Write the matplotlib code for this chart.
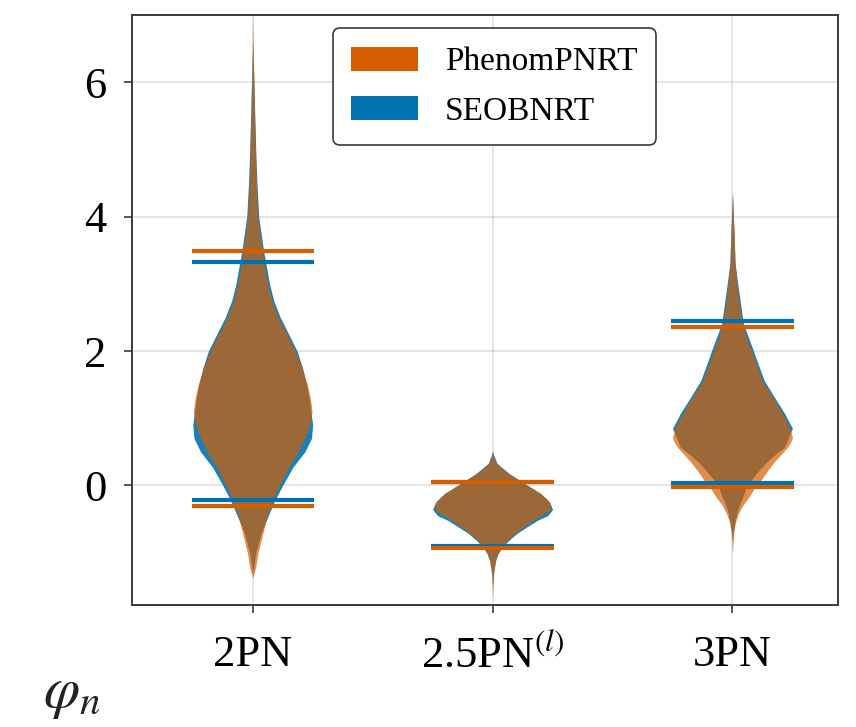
import numpy as np
import matplotlib
matplotlib.use("Agg")
import matplotlib.pyplot as plt
from matplotlib.patches import Patch

plt.rcParams['font.family'] = ['Liberation Serif', 'DejaVu Serif']
plt.rcParams['mathtext.fontset'] = 'stix'

# PN orders on the x axis
orders = ['2PN', r'2.5PN$^{(l)}$', '3PN']
models = ['PhenomPNRT', 'SEOBNRT']
colors = {'PhenomPNRT': '#D55E00', 'SEOBNRT': '#0072B2'}

# violin outlines: value -> relative density (1 = widest point)
pheno_y = [
    [7.0, 6.5, 6.0, 5.5, 5.0, 4.5, 4.0, 3.75, 3.5, 3.25, 3.0, 2.75, 2.5, 2.25, 2.0, 1.75, 1.5, 1.3, 1.1,
     0.9, 0.77, 0.5, 0.27, 0.0, -0.22, -0.45, -0.71, -1.0, -1.22, -1.38],
    [0.52, 0.42, 0.33, 0.25, 0.18, 0.1, 0.03, -0.05, -0.12, -0.2, -0.27, -0.33, -0.38, -0.45, -0.52, -0.62,
     -0.72, -0.82, -0.92, -1.02, -1.12, -1.31, -1.5, -1.7],
    [4.36, 4.0, 3.79, 3.3, 3.05, 2.8, 2.6, 2.41, 2.2, 2.05, 1.8, 1.56, 1.31, 1.2, 1.07, 0.95, 0.85, 0.71,
     0.64, 0.57, 0.45, 0.33, 0.2, 0.07, -0.05, -0.18, -0.3, -0.42, -0.55, -0.67, -0.85, -1.04],
]
pheno_w = [
    [0.0, 0.01, 0.02, 0.03, 0.045, 0.06, 0.085, 0.12, 0.16, 0.2, 0.25, 0.32, 0.43, 0.57, 0.71, 0.82, 0.91,
     0.96, 0.99, 0.95, 0.9, 0.76, 0.6, 0.45, 0.33, 0.24, 0.17, 0.09, 0.05, 0.0],
    [0.0, 0.02, 0.07, 0.15, 0.27, 0.4, 0.53, 0.67, 0.8, 0.9, 0.96, 0.98, 0.94, 0.82, 0.68, 0.52, 0.37, 0.25,
     0.15, 0.09, 0.05, 0.02, 0.008, 0.0],
    [0.0, 0.015, 0.025, 0.04, 0.07, 0.1, 0.13, 0.17, 0.23, 0.3, 0.4, 0.5, 0.67, 0.75, 0.83, 0.91, 0.96, 1.0,
     0.97, 0.92, 0.8, 0.68, 0.57, 0.47, 0.36, 0.27, 0.17, 0.1, 0.05, 0.025, 0.01, 0.0],
]
seob_y = [
    [6.6, 6.0, 5.0, 4.5, 4.0, 3.75, 3.5, 3.25, 3.0, 2.75, 2.5, 2.25, 2.0, 1.75, 1.5, 1.3, 1.1, 0.9, 0.7,
     0.5, 0.27, 0.0, -0.22, -0.45, -0.71, -1.0, -1.22, -1.3],
    [0.5, 0.33, 0.18, 0.03, -0.12, -0.25, -0.36, -0.45, -0.52, -0.62, -0.72, -0.82, -0.92, -1.02, -1.12,
     -1.3, -1.5],
    [4.36, 3.79, 3.3, 3.05, 2.8, 2.41, 2.05, 1.8, 1.56, 1.31, 1.07, 0.95, 0.85, 0.75, 0.57, 0.45, 0.33, 0.2,
     0.07, -0.05, -0.18, -0.3, -0.42, -0.55, -0.65, -0.8],
]
seob_w = [
    [0.0, 0.02, 0.05, 0.07, 0.1, 0.14, 0.18, 0.23, 0.28, 0.35, 0.46, 0.6, 0.74, 0.83, 0.9, 0.94, 0.97, 1.0,
     0.98, 0.87, 0.67, 0.5, 0.37, 0.26, 0.14, 0.05, 0.015, 0.0],
    [0.0, 0.07, 0.27, 0.53, 0.8, 0.95, 1.0, 0.92, 0.75, 0.57, 0.4, 0.27, 0.16, 0.09, 0.05, 0.015, 0.0],
    [0.0, 0.025, 0.045, 0.08, 0.12, 0.18, 0.33, 0.43, 0.53, 0.7, 0.87, 0.94, 1.0, 0.95, 0.87, 0.7, 0.55,
     0.42, 0.3, 0.22, 0.17, 0.11, 0.07, 0.04, 0.02, 0.0],
]

# 90% credible bounds (lower, upper)
pheno_bounds = [(-0.31, 3.49), (-0.94, 0.045), (-0.03, 2.36)]
seob_bounds = [(-0.22, 3.33), (-0.90, 0.05), (0.04, 2.45)]

half = 0.25
pos = np.arange(len(orders))

fig = plt.figure(figsize=(8.56, 7.27), dpi=100)
ax = fig.add_axes([0.154, 0.168, 0.825, 0.811])


def draw_violin(x0, ys, ws, color, alpha):
    ys = np.asarray(ys)
    ws = np.asarray(ws) * half
    ax.fill_betweenx(ys, x0 - ws, x0 + ws, color=color, alpha=alpha, lw=0, zorder=2)


for i in range(len(orders)):
    draw_violin(pos[i], seob_y[i], seob_w[i], colors['SEOBNRT'], 0.9)
    draw_violin(pos[i], pheno_y[i], pheno_w[i], colors['PhenomPNRT'], 0.7)

# seam along each violin centre
for p in pos:
    ax.axvline(p, color='#7a7a7a', alpha=0.22, lw=1.2, zorder=3)

for bounds, m in [(seob_bounds, 'SEOBNRT'), (pheno_bounds, 'PhenomPNRT')]:
    for i, (lo, hi) in enumerate(bounds):
        ax.hlines([lo, hi], pos[i] - 0.255, pos[i] + 0.255, colors=colors[m], lw=3.0, zorder=4)

ax.set_xlim(-0.504, 2.44)
ax.set_ylim(-1.78, 7.0)
ax.set_xticks(pos)
ax.set_xticklabels(orders)
ax.set_yticks([0, 2, 4, 6])
ax.grid(axis='y', color='#e3e3e3', lw=1.3, zorder=0)
ax.set_axisbelow(True)

for s in ax.spines.values():
    s.set_color('#3a3a3a')
    s.set_linewidth(1.4)
ax.tick_params(axis='both', labelsize=32, length=6, width=1.2, color='#3a3a3a', direction='out')
ax.tick_params(axis='x', pad=16)
ax.tick_params(axis='y', pad=12)

handles = [Patch(facecolor=colors[m], edgecolor='none', label=m) for m in models]
leg = ax.legend(handles=handles, loc='upper left', bbox_to_anchor=(0.285, 0.978), borderaxespad=0,
                fontsize=24, frameon=True, fancybox=True, handlelength=2.0, handleheight=0.75,
                handletextpad=0.8, borderpad=0.55, labelspacing=0.55)
leg.get_frame().set_edgecolor('#3a3a3a')
leg.get_frame().set_linewidth(1.2)
leg.get_frame().set_alpha(1.0)

fig.text(0.05, 0.028, r'$\varphi_n$', fontsize=42, color='#222222')

fig.savefig('out.png', dpi=100)
